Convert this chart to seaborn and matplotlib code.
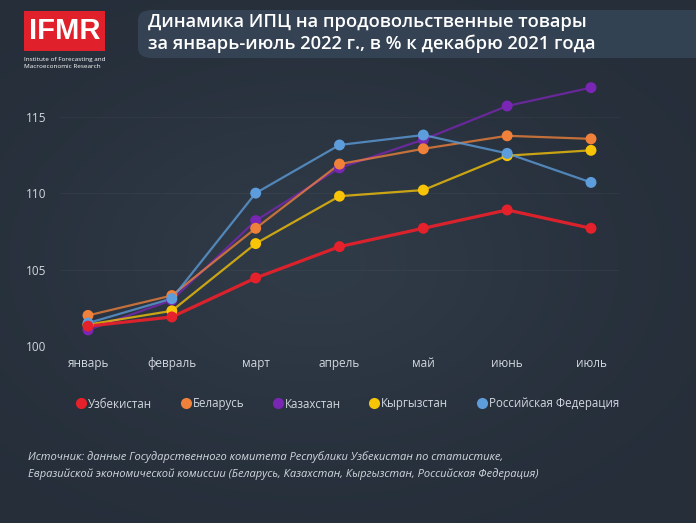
import matplotlib
matplotlib.use("Agg")
import matplotlib.pyplot as plt
from matplotlib.lines import Line2D
from matplotlib.patches import FancyBboxPatch, Rectangle
import seaborn as sns
import pandas as pd
import numpy as np

# Data (CPI food, % of Dec 2021)
months = ["январь", "февраль", "март", "апрель", "май", "июнь", "июль"]
uzbekistan = [101.3, 101.9, 104.45, 106.5, 107.7, 108.9, 107.7]
belarus = [102.0, 103.3, 107.7, 111.9, 112.9, 113.75, 113.55]
kazakhstan = [101.05, 103.0, 108.2, 111.65, 113.5, 115.7, 116.9]
kyrgyzstan = [101.4, 102.3, 106.7, 109.8, 110.2, 112.45, 112.8]
russia = [101.5, 103.1, 110.0, 113.15, 113.8, 112.6, 110.7]
y_ticks = [100, 105, 110, 115]

countries = ["Узбекистан", "Беларусь", "Казахстан", "Кыргызстан", "Российская Федерация"]
series = [uzbekistan, belarus, kazakhstan, kyrgyzstan, russia]
colors = {
    "Узбекистан": "#e5212b",
    "Беларусь": "#f0813a",
    "Казахстан": "#7a26b4",
    "Кыргызстан": "#f7c407",
    "Российская Федерация": "#5d9ddb",
}
draw_order = ["Казахстан", "Беларусь", "Кыргызстан", "Российская Федерация", "Узбекистан"]

rows = []
for name, vals in zip(countries, series):
    for i, (m, v) in enumerate(zip(months, vals)):
        rows.append({"country": name, "idx": i, "month": m, "value": v})
df = pd.DataFrame(rows)

bg = "#2a3440"
txt = "#d3d8df"
fig = plt.figure(figsize=(6.96, 5.23), dpi=100, facecolor=bg)
plt.rcParams["font.family"] = ["Open Sans", "DejaVu Sans"]

# soft background shading
bg_ax = fig.add_axes([0, 0, 1, 1], zorder=-10)
yy, xx = np.mgrid[0:1:200j, 0:1:260j]
shade = 0.5 * np.exp(-((xx - 0.45) ** 2 / 0.15 + (yy - 0.5) ** 2 / 0.12))
bg_ax.imshow(shade, cmap=matplotlib.colors.LinearSegmentedColormap.from_list(
    "bgc", ["#252e39", "#3b4756"]), extent=[0, 1, 0, 1], aspect="auto", vmin=0, vmax=1)
bg_ax.set_axis_off()

# main axes
ax = fig.add_axes([60 / 696, 1 - 346 / 523, 560 / 696, 266 / 523])
ax.set_facecolor("none")
sns.lineplot(data=df, x="idx", y="value", hue="country", hue_order=draw_order,
             palette=colors, linewidth=1.6, alpha=0.78, legend=False, ax=ax)
for line, name in zip(ax.get_lines(), draw_order):
    if name == "Узбекистан":
        line.set_linewidth(2.3)
        line.set_alpha(0.95)
for k, name in enumerate(draw_order):
    sns.scatterplot(data=df[df["country"] == name], x="idx", y="value",
                    color=colors[name], s=62, edgecolor="none", zorder=3 + k,
                    legend=False, ax=ax)

ax.set_xlim(-0.334, 6.346)
ax.set_ylim(100, 117.4)
ax.set_xticks(range(len(months)))
ax.set_xticklabels(months)
ax.set_yticks(y_ticks)
ax.set_xlabel("")
ax.set_ylabel("")
ax.tick_params(colors=txt, labelsize=8.5, length=0, pad=8)
ax.tick_params(axis="y", pad=10)
for sp in ax.spines.values():
    sp.set_visible(False)
ax.grid(axis="y", color="#ffffff", alpha=0.035, linewidth=0.8)

# legend
handles = [Line2D([0], [0], marker="o", linestyle="none", markersize=8,
                  markerfacecolor=colors[c], markeredgecolor="none", label=c)
           for c in countries]
fig.legend(handles=handles, loc="center", bbox_to_anchor=(0.498, 1 - 404 / 523),
           ncol=5, frameon=False, fontsize=8.3, labelcolor=txt,
           handletextpad=0.0, columnspacing=2.3, handlelength=1.2)

# title box
fig.patches.append(FancyBboxPatch((138 / 696, 1 - 58 / 523), 0.9, 48 / 523,
                                  boxstyle="round,pad=0,rounding_size=0.02",
                                  transform=fig.transFigure, facecolor="#3a4b5f",
                                  alpha=0.7, edgecolor="none"))
fig.text(148 / 696, 1 - 22 / 523, "Динамика ИПЦ на продовольственные товары",
         color="white", fontsize=13.2, fontweight="semibold", va="center")
fig.text(148 / 696, 1 - 44 / 523, "за январь-июль 2022 г., в % к декабрю 2021 года",
         color="white", fontsize=13.2, fontweight="semibold", va="center")

# logo
fig.patches.append(Rectangle((24 / 696, 1 - 51 / 523), 81 / 696, 40 / 523,
                             transform=fig.transFigure, facecolor="#e0202a",
                             edgecolor="none"))
fig.text(64.5 / 696, 1 - 31 / 523, "IFMR", color="white", fontsize=21, fontweight="bold",
         ha="center", va="center", family=["Liberation Sans", "DejaVu Sans"])
fig.text(24 / 696, 1 - 59 / 523, "Institute of Forecasting and", color="white",
         fontsize=4.6, va="center")
fig.text(24 / 696, 1 - 67 / 523, "Macroeconomic Research", color="white",
         fontsize=4.6, va="center")

# source note
fig.text(28 / 696, 1 - 457 / 523,
         "Источник: данные Государственного комитета Республики Узбекистан по статистике,",
         color=txt, fontsize=8, style="italic", va="center")
fig.text(28 / 696, 1 - 474 / 523,
         "Евразийской экономической комиссии (Беларусь, Казахстан, Кыргызстан, Российская Федерация)",
         color=txt, fontsize=8, style="italic", va="center")

fig.savefig("out.png", dpi=100, facecolor=bg)
plt.close(fig)
